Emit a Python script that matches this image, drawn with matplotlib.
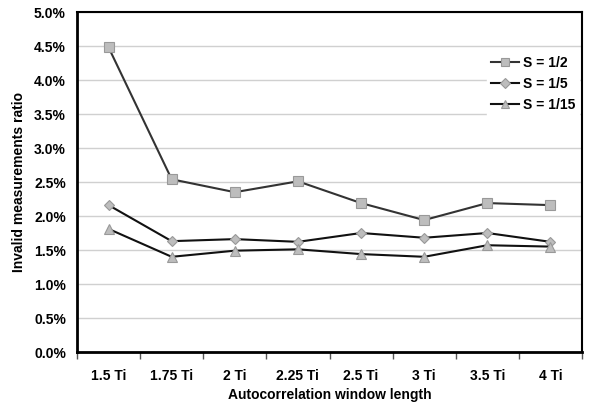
import matplotlib
matplotlib.use("Agg")
import matplotlib.pyplot as plt
from matplotlib.ticker import FuncFormatter, FixedLocator

categories = ["1.5 Ti", "1.75 Ti", "2 Ti", "2.25 Ti", "2.5 Ti", "3 Ti", "3.5 Ti", "4 Ti"]
s_half = [4.48, 2.54, 2.35, 2.51, 2.19, 1.94, 2.19, 2.16]
s_fifth = [2.16, 1.63, 1.66, 1.62, 1.75, 1.68, 1.75, 1.62]
s_fifteenth = [1.81, 1.40, 1.49, 1.51, 1.44, 1.40, 1.57, 1.55]
series_labels = ["S = 1/2", "S = 1/5", "S = 1/15"]
y_ticks = [0.0, 0.5, 1.0, 1.5, 2.0, 2.5, 3.0, 3.5, 4.0, 4.5, 5.0]

plt.rcParams['font.family'] = ['Liberation Sans', 'DejaVu Sans']
plt.rcParams['font.weight'] = 'bold'

fig = plt.figure(figsize=(6.0, 4.08), dpi=100)
ax = fig.add_axes([77/600, 1-352/408, (582-77)/600, (352-12)/408])

x = list(range(len(categories)))
line_col = '#333333'
mk_face = '#bdbdbd'
mk_edge = '#999999'
ax.plot(x, s_half, color=line_col, lw=1.5, marker='s', ms=7, mfc=mk_face, mec=mk_edge, mew=0.8, label=series_labels[0], zorder=3)
ax.plot(x, s_fifth, color='#111111', lw=1.5, marker='D', ms=5.5, mfc=mk_face, mec=mk_edge, mew=0.8, label=series_labels[1], zorder=3)
ax.plot(x, s_fifteenth, color='#111111', lw=1.5, marker='^', ms=7.5, mfc=mk_face, mec=mk_edge, mew=0.8, label=series_labels[2], zorder=3)

ax.set_xlim(-0.5, len(categories) - 0.5)
ax.set_ylim(0, 5.0)
ax.set_yticks(y_ticks)
ax.yaxis.set_major_formatter(FuncFormatter(lambda v, p: f"{v:.1f}%"))
ax.set_xticks(x)
ax.set_xticklabels(categories)
ax.tick_params(axis='x', which='major', length=0, pad=12, labelsize=10)
ax.xaxis.set_minor_locator(FixedLocator([i - 0.5 for i in range(len(categories) + 1)]))
ax.tick_params(axis='x', which='minor', length=5, width=1, direction='out', color='#555555')
ax.tick_params(axis='y', length=0, pad=8, labelsize=10)
for lab in ax.get_xticklabels() + ax.get_yticklabels():
    lab.set_fontweight('bold')

ax.grid(axis='y', color='#d0d0d0', lw=1)
ax.set_axisbelow(True)
for s in ax.spines.values():
    s.set_color('black')
    s.set_linewidth(1.5)
ax.spines['left'].set_linewidth(2)
ax.spines['bottom'].set_linewidth(2)

ax.set_xlabel("Autocorrelation window length", fontsize=10, fontweight='bold', labelpad=4)
ax.set_ylabel("Invalid measurements ratio", fontsize=10, fontweight='bold', labelpad=6)

leg = ax.legend(loc='upper right', bbox_to_anchor=(1.0, 0.89), frameon=True, fontsize=10,
                handlelength=2.0, handletextpad=0.3, labelspacing=0.5, borderpad=0.3,
                borderaxespad=0.2, markerscale=0.85)
leg.get_frame().set_facecolor('white')
leg.get_frame().set_edgecolor('white')
leg.get_frame().set_alpha(1)
leg.get_frame().set_boxstyle('square', pad=0)
for t in leg.get_texts():
    t.set_fontweight('bold')

fig.savefig("out.png", dpi=100)
